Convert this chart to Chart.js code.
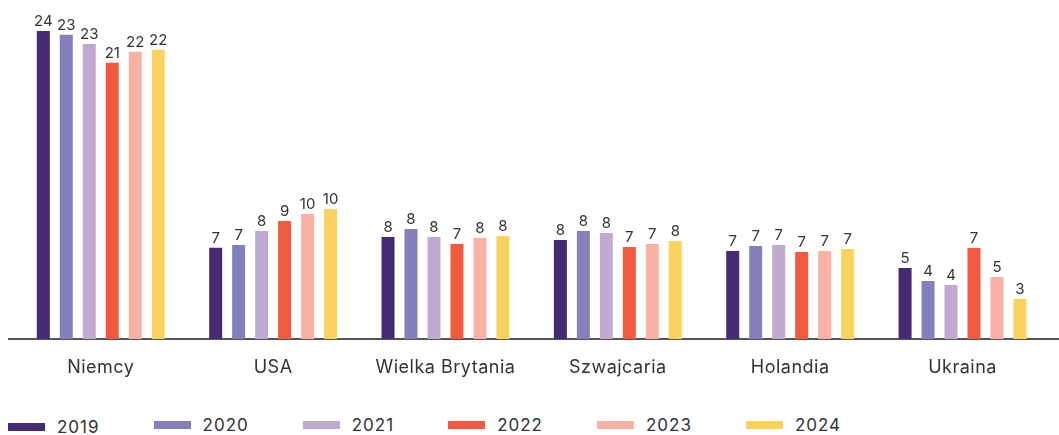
<!DOCTYPE html>
<html>
<head>
<meta charset="utf-8">
<script src="https://cdn.jsdelivr.net/npm/chart.js@4"></script>
<style>
  html, body { margin: 0; padding: 0; background: #fff; }
  body { width: 1059px; height: 435px; position: relative; overflow: hidden; font-family: Inter, "Noto Sans", sans-serif; }
  #c { position: absolute; left: 0; top: 0; }
  #legend { position: absolute; left: 8px; top: 415px; display: flex; align-items: center; font-size: 17px; letter-spacing: 1px; color: #333; }
  .item { display: flex; align-items: center; margin-right: 54px; }
  .box { width: 37px; height: 8px; margin-right: 12px; }
</style>
</head>
<body>
<canvas id="c" width="1059" height="400"></canvas>
<div id="legend"></div>
<script>
const categories = ["Niemcy", "USA", "Wielka Brytania", "Szwajcaria", "Holandia", "Ukraina"];
const years = ["2019", "2020", "2021", "2022", "2023", "2024"];
const colors = ["#462a73", "#8380bb", "#c1aad0", "#f15a3e", "#f9b1a6", "#fad35e"];
const v2019 = [23.7, 7.02, 7.85, 7.62, 6.77, 5.46];
const v2020 = [23.4, 7.23, 8.46, 8.31, 7.15, 4.46];
const v2021 = [22.7, 8.31, 7.85, 8.15, 7.23, 4.15];
const v2022 = [21.25, 9.08, 7.31, 7.08, 6.69, 7.0];
const v2023 = [22.1, 9.62, 7.77, 7.31, 6.77, 4.77];
const v2024 = [22.25, 10.0, 7.92, 7.54, 6.92, 3.08];
const series = [v2019, v2020, v2021, v2022, v2023, v2024];

const FONT = "Inter, 'Noto Sans', sans-serif";

const spacing = {
  id: 'spacing',
  beforeDraw(chart) { chart.ctx.letterSpacing = '0.5px'; }
};

const valueLabels = {
  id: 'valueLabels',
  afterDatasetsDraw(chart) {
    const ctx = chart.ctx;
    ctx.save();
    ctx.letterSpacing = '0px';
    ctx.font = "15px " + FONT;
    ctx.fillStyle = "#333";
    ctx.textAlign = "center";
    ctx.textBaseline = "alphabetic";
    chart.data.datasets.forEach((ds, i) => {
      chart.getDatasetMeta(i).data.forEach((el, j) => {
        ctx.fillText(String(Math.round(ds.data[j])), el.x, el.y - 5);
      });
    });
    ctx.restore();
  }
};

const axisLine = {
  id: 'axisLine',
  beforeDatasetsDraw(chart) {
    const ctx = chart.ctx;
    const y = chart.chartArea.bottom;
    ctx.save();
    ctx.strokeStyle = "#555";
    ctx.lineWidth = 2;
    ctx.beginPath();
    ctx.moveTo(8, y);
    ctx.lineTo(chart.width, y);
    ctx.stroke();
    ctx.restore();
  }
};

new Chart(document.getElementById('c'), {
  type: 'bar',
  data: {
    labels: categories,
    datasets: years.map((y, i) => ({
      label: y,
      data: series[i],
      backgroundColor: colors[i],
      borderWidth: 0,
      categoryPercentage: 0.8,
      barPercentage: 0.566
    }))
  },
  options: {
    responsive: false,
    animation: false,
    layout: { padding: { left: 14.6, right: 10.3, top: 14, bottom: 0 } },
    plugins: { legend: { display: false }, tooltip: { enabled: false } },
    scales: {
      x: {
        grid: { display: false, drawTicks: false },
        border: { display: false },
        ticks: { color: "#333", font: { family: FONT, size: 18 }, padding: 18, maxRotation: 0 },
        afterFit(s) { s.height = 61; }
      },
      y: {
        display: false,
        min: 0,
        max: 25
      }
    }
  },
  plugins: [spacing, axisLine, valueLabels]
});

const legend = document.getElementById('legend');
years.forEach((y, i) => {
  const it = document.createElement('div');
  it.className = 'item';
  if (i === 0) it.style.transform = 'translateY(2px)';
  const b = document.createElement('div');
  b.className = 'box';
  b.style.background = colors[i];
  const t = document.createElement('span');
  t.textContent = y;
  it.appendChild(b); it.appendChild(t);
  legend.appendChild(it);
});
</script>
</body>
</html>
